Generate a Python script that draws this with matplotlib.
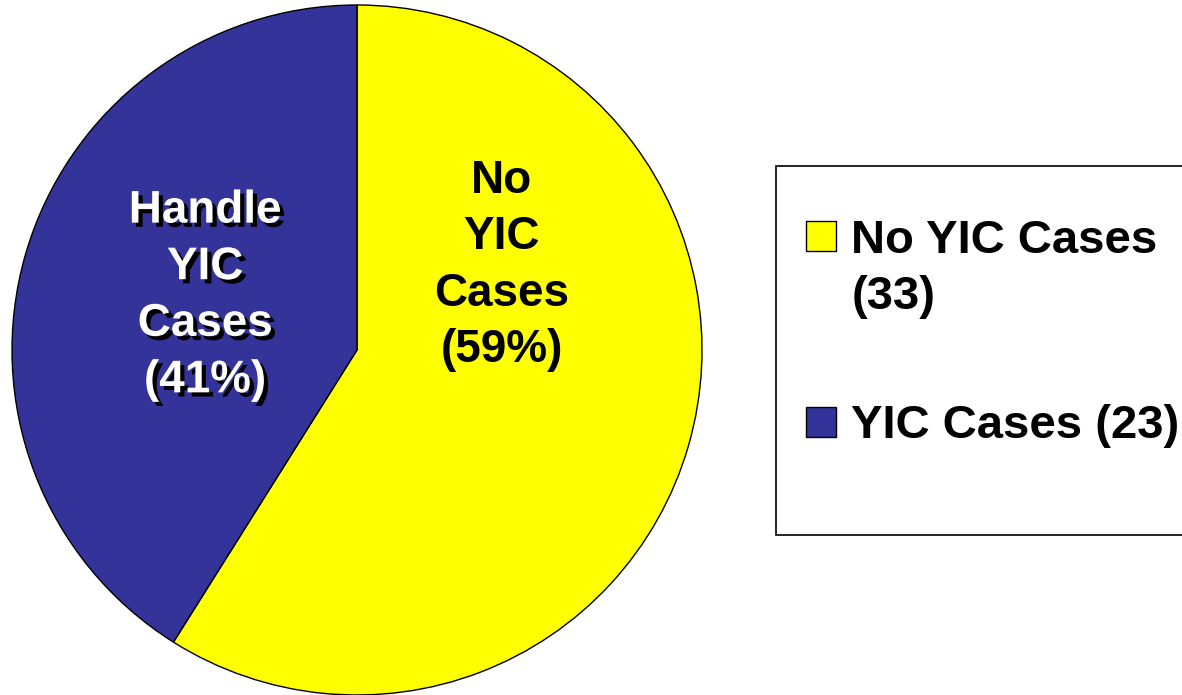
import matplotlib.pyplot as plt
import matplotlib.patheffects as pe
from matplotlib.patches import Rectangle
from matplotlib.legend_handler import HandlerPatch

# data
labels = ["No YIC Cases", "YIC Cases"]
counts = [33, 23]
inner_labels = ["No\nYIC\nCases", "Handle\nYIC\nCases"]
colors = ["#FFFF00", "#333399"]

plt.rcParams['font.family'] = ['Liberation Sans', 'DejaVu Sans']
plt.rcParams['font.weight'] = 'bold'

W, H = 1182, 695
fig = plt.figure(figsize=(W / 100, H / 100), dpi=100)

# pie axes: centre (357, 350) px, radius 345 px
cx, cy, r = 357, 350, 345
ax = fig.add_axes([(cx - r) / W, (H - cy - r) / H, 2 * r / W, 2 * r / H])
wedges, _ = ax.pie(counts, colors=colors, startangle=90, counterclock=False,
                   radius=1, wedgeprops=dict(edgecolor='black', linewidth=1))
ax.set_xlim(-1, 1)
ax.set_ylim(-1, 1)
ax.set_aspect('equal')
ax.axis('off')

total = sum(counts)
pcts = [round(c / total * 100) for c in counts]

# label inside yellow wedge (plain black)
ax.text(0.42, 0.245, f"{inner_labels[0]}\n({pcts[0]}%)", ha='center', va='center',
        fontsize=33, fontweight='bold', color='black', linespacing=1.37)
# label inside blue wedge (white with black shadow)
ax.text(-0.44, 0.158, f"{inner_labels[1]}\n({pcts[1]}%)", ha='center', va='center',
        fontsize=33, fontweight='bold', color='white', linespacing=1.37,
        path_effects=[pe.SimplePatchShadow(offset=(3, -3), shadow_rgbFace='black', alpha=1),
                      pe.Normal()])

# legend frame
fig.patches.append(Rectangle((776 / W, 1 - 535 / H), (1200 - 776) / W, (535 - 166) / H,
                             transform=fig.transFigure, facecolor='white',
                             edgecolor='black', linewidth=1.2, zorder=0))

LEG_FS = 34
LEG_LS = 1.36


# put the marker next to the first line of a two-line label
def first_line_patch(legend, orig_handle, xdescent, ydescent, width, height, fontsize):
    return Rectangle((-xdescent, -ydescent + fontsize * 0.7), width, height)


def plain_patch(legend, orig_handle, xdescent, ydescent, width, height, fontsize):
    return Rectangle((-xdescent, -ydescent), width, height)


leg_labels = [f"{labels[0]}\n({counts[0]})", f"{labels[1]} ({counts[1]})"]
leg = fig.legend(wedges, leg_labels, loc='upper left',
                 bbox_to_anchor=(806 / W, 1 - 219 / H), borderaxespad=0, borderpad=0,
                 frameon=False, prop={'family': 'Liberation Sans', 'weight': 'bold', 'size': LEG_FS},
                 handlelength=0.64, handleheight=0.6, handletextpad=0.32,
                 labelspacing=1.8,
                 handler_map={wedges[0]: HandlerPatch(patch_func=first_line_patch),
                              wedges[1]: HandlerPatch(patch_func=plain_patch)})
leg.get_texts()[0].set_linespacing(LEG_LS)

fig.savefig('out.png', dpi=100)
